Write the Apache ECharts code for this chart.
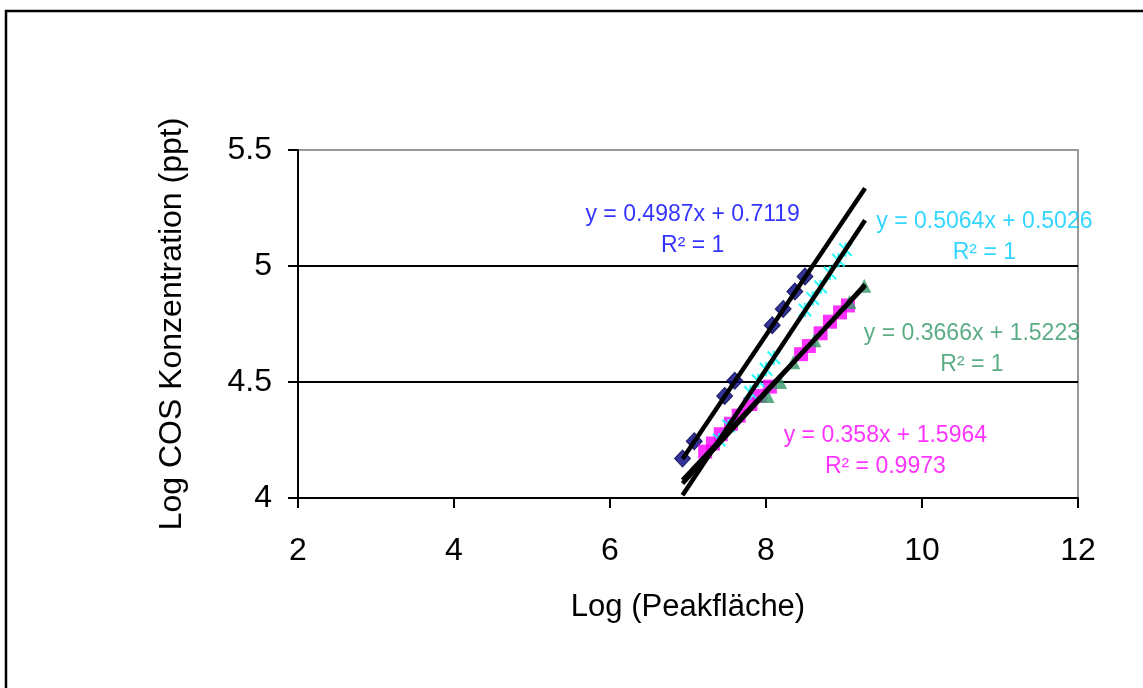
<!DOCTYPE html>
<html>
<head>
<meta charset="utf-8">
<title>Log COS Konzentration vs. Log Peakfläche</title>
<script src="https://cdn.jsdelivr.net/npm/echarts@6/dist/echarts.min.js"></script>
<style>
  html, body { margin: 0; padding: 0; background: #ffffff; }
  #chart { width: 1143px; height: 688px; }
</style>
</head>
<body>
<div id="chart"></div>
<script>
// Calibration points: log peak area (x) vs. log COS concentration (y)
const xNavy = [6.93, 7.08, 7.47, 7.60, 8.08, 8.22, 8.37, 8.50];
const yNavy = [4.17, 4.245, 4.44, 4.505, 4.745, 4.815, 4.89, 4.955];

const xMagenta = [7.22, 7.32, 7.42, 7.55, 7.65, 7.80, 7.92, 8.05, 8.45, 8.55, 8.70, 8.82, 8.95, 9.05];
const yMagenta = [4.20, 4.235, 4.275, 4.32, 4.355, 4.405, 4.44, 4.48, 4.62, 4.655, 4.71, 4.76, 4.80, 4.83];

const xGreen = [8.02, 8.18, 8.35, 8.62, 9.07, 9.26];
const yGreen = [4.44, 4.50, 4.585, 4.68, 4.845, 4.915];

const xCyan = [7.40, 7.52, 7.80, 7.90, 8.00, 8.10, 8.50, 8.60, 8.70, 8.82, 8.93, 9.02];
const yCyan = [4.25, 4.31, 4.455, 4.505, 4.555, 4.605, 4.81, 4.86, 4.91, 4.97, 5.025, 5.07];

// Linear fits (order: navy, cyan, green, magenta)
const fitSlope = [0.4987, 0.5064, 0.3666, 0.358];
const fitIntercept = [0.7119, 0.5026, 1.5223, 1.5964];
const fitR2 = ['1', '1', '1', '0.9973'];
const fitColor = ['#0000FF', '#00CCFF', '#339966', '#FF00FF'];
const fitXRange = [6.93, 9.27];
// Anchor of each equation box, in data units
const fitLabelX = [7.06, 10.80, 10.64, 9.53];
const fitLabelY = [5.155, 5.125, 4.642, 4.203];

// Axis ticks
const xTicks = [2, 4, 6, 8, 10, 12];
const yTicks = [4, 4.5, 5, 5.5];

const FONT = '"Liberation Sans", Arial, Helvetica, sans-serif';

// Asterisk marker (vertical bar plus two diagonals)
const ASTERISK = 'path://M4.2 0H5.8V10H4.2Z M0 1.1L1.1 0L10 8.9L8.9 10Z M8.9 0L10 1.1L1.1 10L0 8.9Z';

function zip(xs, ys) { return xs.map((x, i) => [x, ys[i]]); }

const chart = echarts.init(document.getElementById('chart'), null, { renderer: 'canvas' });

const fitLines = fitSlope.map((m, i) => ({
  type: 'line',
  z: 5,
  silent: true,
  symbol: 'none',
  lineStyle: { color: '#000000', width: 4.5 },
  data: fitXRange.map(x => [x, m * x + fitIntercept[i]])
}));

const fitLabels = fitSlope.map((m, i) => ({
  type: 'scatter',
  z: 6,
  silent: true,
  symbolSize: 0,
  data: [[fitLabelX[i], fitLabelY[i]]],
  label: {
    show: true,
    position: 'inside',
    align: 'center',
    verticalAlign: 'middle',
    color: fitColor[i],
    fontFamily: FONT,
    fontSize: 23,
    lineHeight: 31,
    formatter: 'y = ' + m + 'x + ' + fitIntercept[i] + '\nR\u00B2 = ' + fitR2[i]
  }
}));

chart.setOption({
  animation: false,
  backgroundColor: '#ffffff',
  textStyle: { fontFamily: FONT },
  graphic: [{
    type: 'rect',
    shape: { x: 6, y: 11, width: 1400, height: 900 },
    style: { fill: null, stroke: '#000000', lineWidth: 2.5 },
    z: 100
  }],
  grid: {
    left: 298, top: 150, width: 780, height: 348,
    show: true,
    backgroundColor: '#ffffff',
    borderColor: '#999999',
    borderWidth: 2,
    outerBoundsMode: 'none'
  },
  xAxis: {
    type: 'value',
    min: xTicks[0], max: xTicks[xTicks.length - 1], interval: 2,
    name: 'Log (Peakfläche)',
    nameLocation: 'middle',
    nameGap: 94,
    nameMoveOverlap: false,
    nameTextStyle: { color: '#000000', fontSize: 31, fontFamily: FONT },
    axisLine: { show: true, lineStyle: { color: '#000000', width: 2 } },
    axisTick: { show: true, inside: false, length: 10, lineStyle: { color: '#000000', width: 2 } },
    axisLabel: { color: '#000000', fontSize: 32, margin: 37, fontFamily: FONT },
    splitLine: { show: false }
  },
  yAxis: {
    type: 'value',
    min: yTicks[0], max: yTicks[yTicks.length - 1], interval: 0.5,
    name: 'Log COS Konzentration (ppt)',
    nameLocation: 'middle',
    nameGap: 110,
    nameMoveOverlap: false,
    nameTextStyle: { color: '#000000', fontSize: 32, fontFamily: FONT },
    axisLine: { show: true, lineStyle: { color: '#000000', width: 2 } },
    axisTick: { show: true, inside: false, length: 10, lineStyle: { color: '#000000', width: 2 } },
    axisLabel: { color: '#000000', fontSize: 32, margin: 26, fontFamily: FONT },
    splitLine: { show: true, lineStyle: { color: ['#000000', '#000000', '#000000', '#999999'], width: 2 } }
  },
  series: [
    {
      type: 'scatter', name: 'navy', z: 2,
      symbol: 'diamond', symbolSize: [16, 17],
      itemStyle: { color: '#000080', borderColor: '#00004a', borderWidth: 1 },
      data: zip(xNavy, yNavy)
    },
    {
      type: 'scatter', name: 'magenta', z: 2,
      symbol: 'rect', symbolSize: 14,
      itemStyle: { color: '#FF00FF' },
      data: zip(xMagenta, yMagenta)
    },
    {
      type: 'scatter', name: 'green', z: 2,
      symbol: 'triangle', symbolSize: 14,
      itemStyle: { color: '#339966' },
      data: zip(xGreen, yGreen)
    },
    {
      type: 'scatter', name: 'cyan', z: 2,
      symbol: ASTERISK, symbolSize: 14,
      itemStyle: { color: '#00FFFF' },
      data: zip(xCyan, yCyan)
    },
    ...fitLines,
    ...fitLabels
  ]
});
</script>
</body>
</html>
